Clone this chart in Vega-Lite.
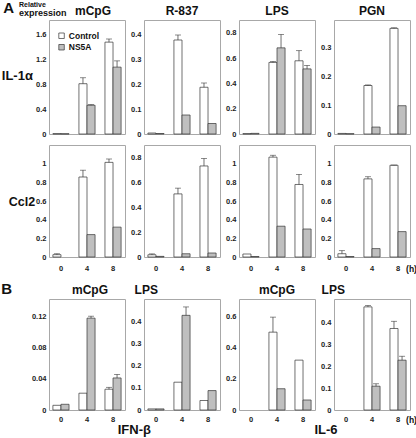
{
"$schema": "https://vega.github.io/schema/vega-lite/v6.json",
"padding": 0,
"datasets": {
"d": [
{"panel":"r1p1","time":0,"group":"Control","value":0.006},
{"panel":"r1p1","time":0,"group":"NS5A","value":0.004},
{"panel":"r1p1","time":4,"group":"Control","value":0.805,"hi":0.9},
{"panel":"r1p1","time":4,"group":"NS5A","value":0.46,"hi":0.47},
{"panel":"r1p1","time":8,"group":"Control","value":1.47,"hi":1.52},
{"panel":"r1p1","time":8,"group":"NS5A","value":1.07,"hi":1.17},
{"panel":"r1p2","time":0,"group":"Control","value":0.004},
{"panel":"r1p2","time":0,"group":"NS5A","value":0.002},
{"panel":"r1p2","time":4,"group":"Control","value":0.376,"hi":0.396},
{"panel":"r1p2","time":4,"group":"NS5A","value":0.076},
{"panel":"r1p2","time":8,"group":"Control","value":0.187,"hi":0.204},
{"panel":"r1p2","time":8,"group":"NS5A","value":0.042},
{"panel":"r1p3","time":0,"group":"Control","value":0.003},
{"panel":"r1p3","time":0,"group":"NS5A","value":0.005},
{"panel":"r1p3","time":4,"group":"Control","value":0.565,"hi":0.573},
{"panel":"r1p3","time":4,"group":"NS5A","value":0.68,"hi":0.786},
{"panel":"r1p3","time":8,"group":"Control","value":0.578,"hi":0.658},
{"panel":"r1p3","time":8,"group":"NS5A","value":0.514,"hi":0.541},
{"panel":"r1p4","time":0,"group":"Control","value":0.002},
{"panel":"r1p4","time":0,"group":"NS5A","value":0.001},
{"panel":"r1p4","time":4,"group":"Control","value":0.168,"hi":0.17},
{"panel":"r1p4","time":4,"group":"NS5A","value":0.024},
{"panel":"r1p4","time":8,"group":"Control","value":0.366,"hi":0.368},
{"panel":"r1p4","time":8,"group":"NS5A","value":0.098},
{"panel":"r2p1","time":0,"group":"Control","value":0.025,"hi":0.035},
{"panel":"r2p1","time":4,"group":"Control","value":0.857,"hi":0.93},
{"panel":"r2p1","time":4,"group":"NS5A","value":0.24},
{"panel":"r2p1","time":8,"group":"Control","value":1.014,"hi":1.05},
{"panel":"r2p1","time":8,"group":"NS5A","value":0.32},
{"panel":"r2p2","time":0,"group":"Control","value":0.018,"hi":0.025},
{"panel":"r2p2","time":0,"group":"NS5A","value":0.005},
{"panel":"r2p2","time":4,"group":"Control","value":0.506,"hi":0.552},
{"panel":"r2p2","time":4,"group":"NS5A","value":0.026},
{"panel":"r2p2","time":8,"group":"Control","value":0.73,"hi":0.79},
{"panel":"r2p2","time":8,"group":"NS5A","value":0.032},
{"panel":"r2p3","time":0,"group":"Control","value":0.032},
{"panel":"r2p3","time":0,"group":"NS5A","value":0.005},
{"panel":"r2p3","time":4,"group":"Control","value":1.07,"hi":1.09},
{"panel":"r2p3","time":4,"group":"NS5A","value":0.33},
{"panel":"r2p3","time":8,"group":"Control","value":0.777,"hi":0.885},
{"panel":"r2p3","time":8,"group":"NS5A","value":0.3},
{"panel":"r2p4","time":0,"group":"Control","value":0.035,"hi":0.068},
{"panel":"r2p4","time":0,"group":"NS5A","value":0.005},
{"panel":"r2p4","time":4,"group":"Control","value":0.837,"hi":0.86},
{"panel":"r2p4","time":4,"group":"NS5A","value":0.09},
{"panel":"r2p4","time":8,"group":"Control","value":0.983,"hi":0.985},
{"panel":"r2p4","time":8,"group":"NS5A","value":0.272},
{"panel":"r3p1","time":0,"group":"Control","value":0.006},
{"panel":"r3p1","time":0,"group":"NS5A","value":0.0073},
{"panel":"r3p1","time":4,"group":"Control","value":0.0215},
{"panel":"r3p1","time":4,"group":"NS5A","value":0.1175,"hi":0.12},
{"panel":"r3p1","time":8,"group":"Control","value":0.0266,"hi":0.029},
{"panel":"r3p1","time":8,"group":"NS5A","value":0.041,"hi":0.0455},
{"panel":"r3p2","time":0,"group":"Control","value":0.005},
{"panel":"r3p2","time":0,"group":"NS5A","value":0.005},
{"panel":"r3p2","time":4,"group":"Control","value":0.126},
{"panel":"r3p2","time":4,"group":"NS5A","value":0.429,"hi":0.467},
{"panel":"r3p2","time":8,"group":"Control","value":0.043},
{"panel":"r3p2","time":8,"group":"NS5A","value":0.088},
{"panel":"r3p3","time":4,"group":"Control","value":0.498,"hi":0.594},
{"panel":"r3p3","time":4,"group":"NS5A","value":0.136},
{"panel":"r3p3","time":8,"group":"Control","value":0.319},
{"panel":"r3p3","time":8,"group":"NS5A","value":0.064},
{"panel":"r3p4","time":4,"group":"Control","value":0.472,"hi":0.478},
{"panel":"r3p4","time":4,"group":"NS5A","value":0.109,"hi":0.12},
{"panel":"r3p4","time":8,"group":"Control","value":0.373,"hi":0.406},
{"panel":"r3p4","time":8,"group":"NS5A","value":0.228,"hi":0.246}
]
},
"data": {"name": "d"},
"spacing": 8,
"vconcat": [
{
"title": {"text": "A", "anchor": "start", "frame": "group", "fontSize": 15, "offset": 0, "dx": -45.7, "dy": 15},
"spacing": 6,
"vconcat": [
{
"title": {"text": "Relative", "subtitle": "expression", "anchor": "start", "frame": "group", "fontSize": 7, "subtitleFontSize": 9, "subtitleFont": "Liberation Sans", "subtitleFontWeight": "bold", "subtitleColor": "#111", "subtitlePadding": 1, "offset": 0, "dx": -30, "dy": 13},
"spacing": 19,
"bounds": "flush",
"hconcat": [
{
"width": 76, "height": 114,
"title": {"text": "mCpG", "dx": 6},
"transform": [{"filter": "datum.panel === 'r1p1'"}],
"encoding": {
"x": {"field": "time", "type": "ordinal", "scale": {"domain": [0, 4, 8], "paddingInner": 0.38, "paddingOuter": 0.15}, "axis": null},
"xOffset": {"field": "group", "type": "nominal", "scale": {"domain": ["Control", "NS5A"]}}
},
"layer": [
{"mark": {"type": "bar", "stroke": "#333", "strokeWidth": 0.7},
"encoding": {
"y": {"field": "value", "type": "quantitative", "scale": {"domain": [0, 1.824], "nice": false}, "axis": {"values": [0, 0.4, 0.8, 1.2, 1.6], "tickCount": 20, "labelOverlap": false, "format": "~g", "title": "IL-1α", "titleAngle": 0, "titleAlign": "left", "titleBaseline": "alphabetic", "titleX": -47.7, "titleY": 59, "titleFontSize": 13}},
"fill": {"field": "group", "type": "nominal", "scale": {"domain": ["Control", "NS5A"], "range": ["#ffffff", "#bfbfbf"]}, "legend": {"title": null, "orient": "none", "legendX": 8.3, "legendY": 11.5, "symbolType": "square", "symbolSize": 30, "symbolStrokeColor": "#333", "symbolStrokeWidth": 0.7, "labelFontSize": 8.5, "labelFontWeight": "bold", "labelFont": "Liberation Sans", "labelColor": "#111", "labelOffset": 3, "rowPadding": 2.5, "padding": 0}}
}},
{"transform": [{"filter": "datum.hi != null"}], "mark": {"type": "rule", "color": "#333", "strokeWidth": 0.7}, "encoding": {"y": {"field": "value", "type": "quantitative"}, "y2": {"field": "hi"}}},
{"transform": [{"filter": "datum.hi != null"}], "mark": {"type": "tick", "orient": "horizontal", "thickness": 0.8, "size": 6, "color": "#333"}, "encoding": {"y": {"field": "hi", "type": "quantitative"}}}
]
},
{
"width": 76, "height": 114,
"title": "R-837",
"transform": [{"filter": "datum.panel === 'r1p2'"}],
"encoding": {
"x": {"field": "time", "type": "ordinal", "scale": {"domain": [0, 4, 8], "paddingInner": 0.38, "paddingOuter": 0.15}, "axis": null},
"xOffset": {"field": "group", "type": "nominal", "scale": {"domain": ["Control", "NS5A"]}}
},
"layer": [
{"mark": {"type": "bar", "stroke": "#333", "strokeWidth": 0.7},
"encoding": {
"y": {"field": "value", "type": "quantitative", "scale": {"domain": [0, 0.456], "nice": false}, "axis": {"values": [0, 0.1, 0.2, 0.3, 0.4], "tickCount": 20, "labelOverlap": false, "format": "~g", "title": null}},
"fill": {"field": "group", "type": "nominal", "scale": {"domain": ["Control", "NS5A"], "range": ["#ffffff", "#bfbfbf"]}, "legend": {"title": null, "orient": "none", "legendX": 8.3, "legendY": 11.5, "symbolType": "square", "symbolSize": 30, "symbolStrokeColor": "#333", "symbolStrokeWidth": 0.7, "labelFontSize": 8.5, "labelFontWeight": "bold", "labelFont": "Liberation Sans", "labelColor": "#111", "labelOffset": 3, "rowPadding": 2.5, "padding": 0}}
}},
{"transform": [{"filter": "datum.hi != null"}], "mark": {"type": "rule", "color": "#333", "strokeWidth": 0.7}, "encoding": {"y": {"field": "value", "type": "quantitative"}, "y2": {"field": "hi"}}},
{"transform": [{"filter": "datum.hi != null"}], "mark": {"type": "tick", "orient": "horizontal", "thickness": 0.8, "size": 6, "color": "#333"}, "encoding": {"y": {"field": "hi", "type": "quantitative"}}}
]
},
{
"width": 76, "height": 114,
"title": "LPS",
"transform": [{"filter": "datum.panel === 'r1p3'"}],
"encoding": {
"x": {"field": "time", "type": "ordinal", "scale": {"domain": [0, 4, 8], "paddingInner": 0.38, "paddingOuter": 0.15}, "axis": null},
"xOffset": {"field": "group", "type": "nominal", "scale": {"domain": ["Control", "NS5A"]}}
},
"layer": [
{"mark": {"type": "bar", "stroke": "#333", "strokeWidth": 0.7},
"encoding": {
"y": {"field": "value", "type": "quantitative", "scale": {"domain": [0, 0.9], "nice": false}, "axis": {"values": [0, 0.2, 0.4, 0.6, 0.8], "tickCount": 20, "labelOverlap": false, "format": "~g", "title": null}},
"fill": {"field": "group", "type": "nominal", "scale": {"domain": ["Control", "NS5A"], "range": ["#ffffff", "#bfbfbf"]}, "legend": {"title": null, "orient": "none", "legendX": 8.3, "legendY": 11.5, "symbolType": "square", "symbolSize": 30, "symbolStrokeColor": "#333", "symbolStrokeWidth": 0.7, "labelFontSize": 8.5, "labelFontWeight": "bold", "labelFont": "Liberation Sans", "labelColor": "#111", "labelOffset": 3, "rowPadding": 2.5, "padding": 0}}
}},
{"transform": [{"filter": "datum.hi != null"}], "mark": {"type": "rule", "color": "#333", "strokeWidth": 0.7}, "encoding": {"y": {"field": "value", "type": "quantitative"}, "y2": {"field": "hi"}}},
{"transform": [{"filter": "datum.hi != null"}], "mark": {"type": "tick", "orient": "horizontal", "thickness": 0.8, "size": 6, "color": "#333"}, "encoding": {"y": {"field": "hi", "type": "quantitative"}}}
]
},
{
"width": 76, "height": 114,
"title": "PGN",
"transform": [{"filter": "datum.panel === 'r1p4'"}],
"encoding": {
"x": {"field": "time", "type": "ordinal", "scale": {"domain": [0, 4, 8], "paddingInner": 0.38, "paddingOuter": 0.15}, "axis": null},
"xOffset": {"field": "group", "type": "nominal", "scale": {"domain": ["Control", "NS5A"]}}
},
"layer": [
{"mark": {"type": "bar", "stroke": "#333", "strokeWidth": 0.7},
"encoding": {
"y": {"field": "value", "type": "quantitative", "scale": {"domain": [0, 0.395], "nice": false}, "axis": {"values": [0, 0.1, 0.2, 0.3], "tickCount": 20, "labelOverlap": false, "format": "~g", "title": null}},
"fill": {"field": "group", "type": "nominal", "scale": {"domain": ["Control", "NS5A"], "range": ["#ffffff", "#bfbfbf"]}, "legend": {"title": null, "orient": "none", "legendX": 8.3, "legendY": 11.5, "symbolType": "square", "symbolSize": 30, "symbolStrokeColor": "#333", "symbolStrokeWidth": 0.7, "labelFontSize": 8.5, "labelFontWeight": "bold", "labelFont": "Liberation Sans", "labelColor": "#111", "labelOffset": 3, "rowPadding": 2.5, "padding": 0}}
}},
{"transform": [{"filter": "datum.hi != null"}], "mark": {"type": "rule", "color": "#333", "strokeWidth": 0.7}, "encoding": {"y": {"field": "value", "type": "quantitative"}, "y2": {"field": "hi"}}},
{"transform": [{"filter": "datum.hi != null"}], "mark": {"type": "tick", "orient": "horizontal", "thickness": 0.8, "size": 6, "color": "#333"}, "encoding": {"y": {"field": "hi", "type": "quantitative"}}}
]
}
]
},
{
"spacing": 19,
"bounds": "flush",
"hconcat": [
{
"width": 76, "height": 112,
"transform": [{"filter": "datum.panel === 'r2p1'"}],
"encoding": {
"x": {"field": "time", "type": "ordinal", "scale": {"domain": [0, 4, 8], "paddingInner": 0.38, "paddingOuter": 0.15}, "axis": {"title": null, "labelAngle": 0, "labelPadding": 7}},
"xOffset": {"field": "group", "type": "nominal", "scale": {"domain": ["Control", "NS5A"]}}
},
"layer": [
{"mark": {"type": "bar", "stroke": "#333", "strokeWidth": 0.7},
"encoding": {
"y": {"field": "value", "type": "quantitative", "scale": {"domain": [0, 1.2], "nice": false}, "axis": {"values": [0, 0.2, 0.4, 0.6, 0.8, 1], "tickCount": 20, "labelOverlap": false, "format": "~g", "title": "  Ccl2", "titleAngle": 0, "titleAlign": "right", "titleBaseline": "alphabetic", "titleX": -14.4, "titleY": 60, "titleFontSize": 12.5}},
"fill": {"field": "group", "type": "nominal", "scale": {"domain": ["Control", "NS5A"], "range": ["#ffffff", "#bfbfbf"]}, "legend": {"title": null, "orient": "none", "legendX": 8.3, "legendY": 11.5, "symbolType": "square", "symbolSize": 30, "symbolStrokeColor": "#333", "symbolStrokeWidth": 0.7, "labelFontSize": 8.5, "labelFontWeight": "bold", "labelFont": "Liberation Sans", "labelColor": "#111", "labelOffset": 3, "rowPadding": 2.5, "padding": 0}}
}},
{"transform": [{"filter": "datum.hi != null"}], "mark": {"type": "rule", "color": "#333", "strokeWidth": 0.7}, "encoding": {"y": {"field": "value", "type": "quantitative"}, "y2": {"field": "hi"}}},
{"transform": [{"filter": "datum.hi != null"}], "mark": {"type": "tick", "orient": "horizontal", "thickness": 0.8, "size": 6, "color": "#333"}, "encoding": {"y": {"field": "hi", "type": "quantitative"}}}
]
},
{
"width": 76, "height": 112,
"transform": [{"filter": "datum.panel === 'r2p2'"}],
"encoding": {
"x": {"field": "time", "type": "ordinal", "scale": {"domain": [0, 4, 8], "paddingInner": 0.38, "paddingOuter": 0.15}, "axis": {"title": null, "labelAngle": 0, "labelPadding": 7}},
"xOffset": {"field": "group", "type": "nominal", "scale": {"domain": ["Control", "NS5A"]}}
},
"layer": [
{"mark": {"type": "bar", "stroke": "#333", "strokeWidth": 0.7},
"encoding": {
"y": {"field": "value", "type": "quantitative", "scale": {"domain": [0, 0.898], "nice": false}, "axis": {"values": [0, 0.2, 0.4, 0.6, 0.8], "tickCount": 20, "labelOverlap": false, "format": "~g", "title": null}},
"fill": {"field": "group", "type": "nominal", "scale": {"domain": ["Control", "NS5A"], "range": ["#ffffff", "#bfbfbf"]}, "legend": {"title": null, "orient": "none", "legendX": 8.3, "legendY": 11.5, "symbolType": "square", "symbolSize": 30, "symbolStrokeColor": "#333", "symbolStrokeWidth": 0.7, "labelFontSize": 8.5, "labelFontWeight": "bold", "labelFont": "Liberation Sans", "labelColor": "#111", "labelOffset": 3, "rowPadding": 2.5, "padding": 0}}
}},
{"transform": [{"filter": "datum.hi != null"}], "mark": {"type": "rule", "color": "#333", "strokeWidth": 0.7}, "encoding": {"y": {"field": "value", "type": "quantitative"}, "y2": {"field": "hi"}}},
{"transform": [{"filter": "datum.hi != null"}], "mark": {"type": "tick", "orient": "horizontal", "thickness": 0.8, "size": 6, "color": "#333"}, "encoding": {"y": {"field": "hi", "type": "quantitative"}}}
]
},
{
"width": 76, "height": 112,
"transform": [{"filter": "datum.panel === 'r2p3'"}],
"encoding": {
"x": {"field": "time", "type": "ordinal", "scale": {"domain": [0, 4, 8], "paddingInner": 0.38, "paddingOuter": 0.15}, "axis": {"title": null, "labelAngle": 0, "labelPadding": 7}},
"xOffset": {"field": "group", "type": "nominal", "scale": {"domain": ["Control", "NS5A"]}}
},
"layer": [
{"mark": {"type": "bar", "stroke": "#333", "strokeWidth": 0.7},
"encoding": {
"y": {"field": "value", "type": "quantitative", "scale": {"domain": [0, 1.2], "nice": false}, "axis": {"values": [0, 0.2, 0.4, 0.6, 0.8, 1], "tickCount": 20, "labelOverlap": false, "format": "~g", "title": null}},
"fill": {"field": "group", "type": "nominal", "scale": {"domain": ["Control", "NS5A"], "range": ["#ffffff", "#bfbfbf"]}, "legend": {"title": null, "orient": "none", "legendX": 8.3, "legendY": 11.5, "symbolType": "square", "symbolSize": 30, "symbolStrokeColor": "#333", "symbolStrokeWidth": 0.7, "labelFontSize": 8.5, "labelFontWeight": "bold", "labelFont": "Liberation Sans", "labelColor": "#111", "labelOffset": 3, "rowPadding": 2.5, "padding": 0}}
}},
{"transform": [{"filter": "datum.hi != null"}], "mark": {"type": "rule", "color": "#333", "strokeWidth": 0.7}, "encoding": {"y": {"field": "value", "type": "quantitative"}, "y2": {"field": "hi"}}},
{"transform": [{"filter": "datum.hi != null"}], "mark": {"type": "tick", "orient": "horizontal", "thickness": 0.8, "size": 6, "color": "#333"}, "encoding": {"y": {"field": "hi", "type": "quantitative"}}}
]
},
{
"width": 76, "height": 112,
"transform": [{"filter": "datum.panel === 'r2p4'"}],
"encoding": {
"x": {"field": "time", "type": "ordinal", "scale": {"domain": [0, 4, 8], "paddingInner": 0.38, "paddingOuter": 0.15}, "axis": {"title": "(h)", "labelAngle": 0, "labelPadding": 7, "titleAngle": 0, "titleX": 77, "titleY": 7, "titleBaseline": "top", "titleAlign": "center", "titleFontSize": 8.5}},
"xOffset": {"field": "group", "type": "nominal", "scale": {"domain": ["Control", "NS5A"]}}
},
"layer": [
{"mark": {"type": "bar", "stroke": "#333", "strokeWidth": 0.7},
"encoding": {
"y": {"field": "value", "type": "quantitative", "scale": {"domain": [0, 1.2], "nice": false}, "axis": {"values": [0, 0.2, 0.4, 0.6, 0.8, 1], "tickCount": 20, "labelOverlap": false, "format": "~g", "title": null}},
"fill": {"field": "group", "type": "nominal", "scale": {"domain": ["Control", "NS5A"], "range": ["#ffffff", "#bfbfbf"]}, "legend": {"title": null, "orient": "none", "legendX": 8.3, "legendY": 11.5, "symbolType": "square", "symbolSize": 30, "symbolStrokeColor": "#333", "symbolStrokeWidth": 0.7, "labelFontSize": 8.5, "labelFontWeight": "bold", "labelFont": "Liberation Sans", "labelColor": "#111", "labelOffset": 3, "rowPadding": 2.5, "padding": 0}}
}},
{"transform": [{"filter": "datum.hi != null"}], "mark": {"type": "rule", "color": "#333", "strokeWidth": 0.7}, "encoding": {"y": {"field": "value", "type": "quantitative"}, "y2": {"field": "hi"}}},
{"transform": [{"filter": "datum.hi != null"}], "mark": {"type": "tick", "orient": "horizontal", "thickness": 0.8, "size": 6, "color": "#333"}, "encoding": {"y": {"field": "hi", "type": "quantitative"}}}
]
}
]
}
]
},
{
"title": {"text": "B", "anchor": "start", "frame": "group", "fontSize": 15, "offset": 0, "dx": -47.7, "dy": 13},
"spacing": 19,
"bounds": "flush",
"hconcat": [
{
"width": 76, "height": 111,
"title": {"text": "mCpG", "dx": 3},
"transform": [{"filter": "datum.panel === 'r3p1'"}],
"encoding": {
"x": {"field": "time", "type": "ordinal", "scale": {"domain": [0, 4, 8], "paddingInner": 0.38, "paddingOuter": 0.15}, "axis": {"title": "IFN-β", "labelAngle": 0, "labelPadding": 5, "titleAngle": 0, "titleX": 84.8, "titleY": 13, "titleBaseline": "top", "titleAlign": "center", "titleFontSize": 13}},
"xOffset": {"field": "group", "type": "nominal", "scale": {"domain": ["Control", "NS5A"]}}
},
"layer": [
{"mark": {"type": "bar", "stroke": "#333", "strokeWidth": 0.7},
"encoding": {
"y": {"field": "value", "type": "quantitative", "scale": {"domain": [0, 0.142], "nice": false}, "axis": {"values": [0, 0.04, 0.08, 0.12], "tickCount": 20, "labelOverlap": false, "format": "~g", "title": null}},
"fill": {"field": "group", "type": "nominal", "scale": {"domain": ["Control", "NS5A"], "range": ["#ffffff", "#bfbfbf"]}, "legend": {"title": null, "orient": "none", "legendX": 8.3, "legendY": 11.5, "symbolType": "square", "symbolSize": 30, "symbolStrokeColor": "#333", "symbolStrokeWidth": 0.7, "labelFontSize": 8.5, "labelFontWeight": "bold", "labelFont": "Liberation Sans", "labelColor": "#111", "labelOffset": 3, "rowPadding": 2.5, "padding": 0}}
}},
{"transform": [{"filter": "datum.hi != null"}], "mark": {"type": "rule", "color": "#333", "strokeWidth": 0.7}, "encoding": {"y": {"field": "value", "type": "quantitative"}, "y2": {"field": "hi"}}},
{"transform": [{"filter": "datum.hi != null"}], "mark": {"type": "tick", "orient": "horizontal", "thickness": 0.8, "size": 6, "color": "#333"}, "encoding": {"y": {"field": "hi", "type": "quantitative"}}}
]
},
{
"width": 76, "height": 111,
"title": {"text": "LPS", "anchor": "start", "dx": 4},
"transform": [{"filter": "datum.panel === 'r3p2'"}],
"encoding": {
"x": {"field": "time", "type": "ordinal", "scale": {"domain": [0, 4, 8], "paddingInner": 0.38, "paddingOuter": 0.15}, "axis": {"title": null, "labelAngle": 0, "labelPadding": 5}},
"xOffset": {"field": "group", "type": "nominal", "scale": {"domain": ["Control", "NS5A"]}}
},
"layer": [
{"mark": {"type": "bar", "stroke": "#333", "strokeWidth": 0.7},
"encoding": {
"y": {"field": "value", "type": "quantitative", "scale": {"domain": [0, 0.503], "nice": false}, "axis": {"values": [0, 0.1, 0.2, 0.3, 0.4], "tickCount": 20, "labelOverlap": false, "format": "~g", "title": null}},
"fill": {"field": "group", "type": "nominal", "scale": {"domain": ["Control", "NS5A"], "range": ["#ffffff", "#bfbfbf"]}, "legend": {"title": null, "orient": "none", "legendX": 8.3, "legendY": 11.5, "symbolType": "square", "symbolSize": 30, "symbolStrokeColor": "#333", "symbolStrokeWidth": 0.7, "labelFontSize": 8.5, "labelFontWeight": "bold", "labelFont": "Liberation Sans", "labelColor": "#111", "labelOffset": 3, "rowPadding": 2.5, "padding": 0}}
}},
{"transform": [{"filter": "datum.hi != null"}], "mark": {"type": "rule", "color": "#333", "strokeWidth": 0.7}, "encoding": {"y": {"field": "value", "type": "quantitative"}, "y2": {"field": "hi"}}},
{"transform": [{"filter": "datum.hi != null"}], "mark": {"type": "tick", "orient": "horizontal", "thickness": 0.8, "size": 6, "color": "#333"}, "encoding": {"y": {"field": "hi", "type": "quantitative"}}}
]
},
{
"width": 76, "height": 111,
"title": "mCpG",
"transform": [{"filter": "datum.panel === 'r3p3'"}],
"encoding": {
"x": {"field": "time", "type": "ordinal", "scale": {"domain": [0, 4, 8], "paddingInner": 0.38, "paddingOuter": 0.15}, "axis": {"title": "IL-6", "labelAngle": 0, "labelPadding": 5, "titleAngle": 0, "titleX": 86.5, "titleY": 13, "titleBaseline": "top", "titleAlign": "center", "titleFontSize": 13}},
"xOffset": {"field": "group", "type": "nominal", "scale": {"domain": ["Control", "NS5A"]}}
},
"layer": [
{"mark": {"type": "bar", "stroke": "#333", "strokeWidth": 0.7},
"encoding": {
"y": {"field": "value", "type": "quantitative", "scale": {"domain": [0, 0.71], "nice": false}, "axis": {"values": [0, 0.2, 0.4, 0.6], "tickCount": 20, "labelOverlap": false, "format": "~g", "title": null}},
"fill": {"field": "group", "type": "nominal", "scale": {"domain": ["Control", "NS5A"], "range": ["#ffffff", "#bfbfbf"]}, "legend": {"title": null, "orient": "none", "legendX": 8.3, "legendY": 11.5, "symbolType": "square", "symbolSize": 30, "symbolStrokeColor": "#333", "symbolStrokeWidth": 0.7, "labelFontSize": 8.5, "labelFontWeight": "bold", "labelFont": "Liberation Sans", "labelColor": "#111", "labelOffset": 3, "rowPadding": 2.5, "padding": 0}}
}},
{"transform": [{"filter": "datum.hi != null"}], "mark": {"type": "rule", "color": "#333", "strokeWidth": 0.7}, "encoding": {"y": {"field": "value", "type": "quantitative"}, "y2": {"field": "hi"}}},
{"transform": [{"filter": "datum.hi != null"}], "mark": {"type": "tick", "orient": "horizontal", "thickness": 0.8, "size": 6, "color": "#333"}, "encoding": {"y": {"field": "hi", "type": "quantitative"}}}
]
},
{
"width": 76, "height": 111,
"title": {"text": "LPS", "anchor": "start", "dx": 1},
"transform": [{"filter": "datum.panel === 'r3p4'"}],
"encoding": {
"x": {"field": "time", "type": "ordinal", "scale": {"domain": [0, 4, 8], "paddingInner": 0.38, "paddingOuter": 0.15}, "axis": {"title": "(h)", "labelAngle": 0, "labelPadding": 5, "titleAngle": 0, "titleX": 77, "titleY": 5, "titleBaseline": "top", "titleAlign": "center", "titleFontSize": 8.5}},
"xOffset": {"field": "group", "type": "nominal", "scale": {"domain": ["Control", "NS5A"]}}
},
"layer": [
{"mark": {"type": "bar", "stroke": "#333", "strokeWidth": 0.7},
"encoding": {
"y": {"field": "value", "type": "quantitative", "scale": {"domain": [0, 0.508], "nice": false}, "axis": {"values": [0, 0.1, 0.2, 0.3, 0.4], "tickCount": 20, "labelOverlap": false, "format": "~g", "title": null}},
"fill": {"field": "group", "type": "nominal", "scale": {"domain": ["Control", "NS5A"], "range": ["#ffffff", "#bfbfbf"]}, "legend": {"title": null, "orient": "none", "legendX": 8.3, "legendY": 11.5, "symbolType": "square", "symbolSize": 30, "symbolStrokeColor": "#333", "symbolStrokeWidth": 0.7, "labelFontSize": 8.5, "labelFontWeight": "bold", "labelFont": "Liberation Sans", "labelColor": "#111", "labelOffset": 3, "rowPadding": 2.5, "padding": 0}}
}},
{"transform": [{"filter": "datum.hi != null"}], "mark": {"type": "rule", "color": "#333", "strokeWidth": 0.7}, "encoding": {"y": {"field": "value", "type": "quantitative"}, "y2": {"field": "hi"}}},
{"transform": [{"filter": "datum.hi != null"}], "mark": {"type": "tick", "orient": "horizontal", "thickness": 0.8, "size": 6, "color": "#333"}, "encoding": {"y": {"field": "hi", "type": "quantitative"}}}
]
}
]
}
],
"config": {
"font": "Liberation Sans",
"view": {"stroke": "#a8a8a8", "strokeWidth": 1},
"axis": {"labelFont": "Liberation Sans", "labelFontWeight": "bold", "labelFontSize": 7.5, "labelColor": "#222", "grid": false, "domain": false, "ticks": false, "labelPadding": 3, "labelOverlap": false, "titleFont": "Liberation Sans", "titleFontWeight": "bold", "titleColor": "#111"},
"title": {"font": "Liberation Sans", "fontWeight": "bold", "fontSize": 12, "color": "#111", "offset": 2}
}
}
